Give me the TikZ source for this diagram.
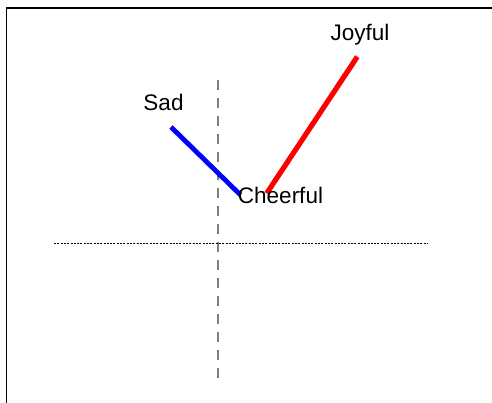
\documentclass[tikz,border=0pt]{standalone}
\usepackage{fontspec}
\setmainfont{Liberation Sans}
\begin{document}
\begin{tikzpicture}[x=1pt,y=-1pt,
  label/.style={inner sep=0pt,anchor=base,font=\fontsize{22.5}{27}\selectfont},
  moodline/.style={line width=4.8pt},
  axisv/.style={line width=2.5pt,draw={rgb,255:red,128;green,128;blue,128},dash pattern=on 10pt off 8pt},
  axish/.style={line width=0.9pt,black,dash pattern=on 2pt off 1.3pt},
  frame/.style={line width=1.4pt,black}]
  \path[use as bounding box,clip] (0,0) rectangle (492,403);
  % open frame: only the top and left sides fall inside the page
  \draw[frame] (6.5,420) -- (6.5,8) -- (510,8);
  % axes
  \coordinate (vtop) at (218,80);
  \coordinate (vbot) at (218,380);
  \coordinate (hleft) at (54,243.3);
  \coordinate (hright) at (428.3,243.3);
  \draw[axisv] (vtop) -- (vbot);
  \draw[axish] (hleft) -- (hright);
  % mood points
  \coordinate (psad) at (171,127);
  \coordinate (pcheer) at (240.5,195);
  \coordinate (pcheer2) at (266.7,193.3);
  \coordinate (pjoy) at (357.3,56.7);
  \draw[moodline,blue] (psad) -- (pcheer);
  \draw[moodline,red,line width=5.2pt] (pcheer2) -- (pjoy);
  % labels
  \node[label] (sad) at (163.5,110.5) {Sad};
  \node[label] (joyful) at (360,40.5) {Joyful};
  \node[label] (cheerful) at (280.5,204) {Cheerful};
\end{tikzpicture}
\end{document}
